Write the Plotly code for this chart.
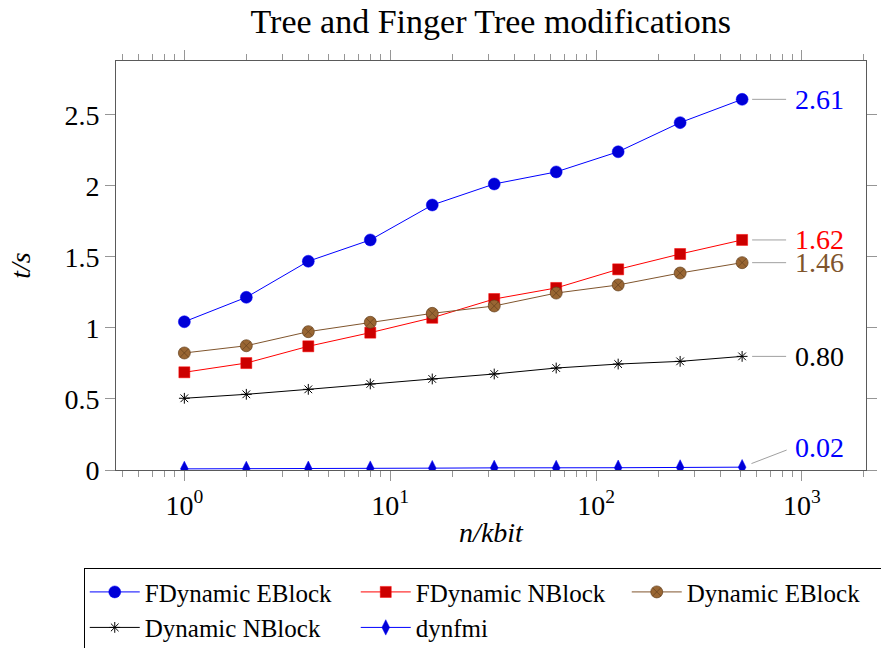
import math
import plotly.graph_objects as go

sizes_kbit = [1, 2, 4, 8, 16, 32, 64, 128, 256, 512]
fdyn_eblock = [1.044, 1.216, 1.47, 1.62, 1.866, 2.014, 2.099, 2.241, 2.446, 2.61]
fdyn_nblock = [0.688, 0.753, 0.871, 0.967, 1.072, 1.204, 1.282, 1.413, 1.521, 1.62]
dyn_eblock = [0.824, 0.875, 0.974, 1.04, 1.103, 1.155, 1.246, 1.303, 1.387, 1.46]
dyn_nblock = [0.505, 0.533, 0.568, 0.606, 0.641, 0.676, 0.718, 0.746, 0.765, 0.80]
dynfmi = [0.008, 0.008, 0.009, 0.010, 0.013, 0.015, 0.014, 0.016, 0.018, 0.02]

series_names = ["FDynamic EBlock", "FDynamic NBlock", "Dynamic EBlock", "Dynamic NBlock", "dynfmi"]
series_values = [fdyn_eblock, fdyn_nblock, dyn_eblock, dyn_nblock, dynfmi]

x_tickvals = [1, 10, 100, 1000]
x_ticktext = ["10<sup>0</sup>", "10<sup>1</sup>", "10<sup>2</sup>", "10<sup>3</sup>"]
y_tickvals = [0, 0.5, 1, 1.5, 2, 2.5]
y_ticktext = ["0", "0.5", "1", "1.5", "2", "2.5"]

FONT = "Liberation Serif"
BROWN_LINE = "rgb(128,85,45)"
styles = [
    dict(line=dict(color="rgb(0,0,255)", width=1),
         marker=dict(symbol="circle", size=12, color="rgb(0,0,215)", line=dict(color="rgb(0,0,255)", width=0.5))),
    dict(line=dict(color="rgb(255,0,0)", width=1),
         marker=dict(symbol="square", size=11, color="rgb(204,0,0)", line=dict(color="rgb(255,0,0)", width=0.5))),
    dict(line=dict(color=BROWN_LINE, width=1),
         marker=dict(symbol="circle-x", size=12, color="rgb(153,102,51)", line=dict(color="rgb(100,65,30)", width=0.7))),
    dict(line=dict(color="black", width=1),
         marker=dict(symbol="asterisk-open", size=9, color="black", line=dict(color="black", width=1))),
    dict(line=dict(color="rgb(0,0,255)", width=1),
         marker=dict(symbol="diamond-tall", size=11, color="rgb(0,0,215)", line=dict(color="rgb(0,0,255)", width=0.5))),
]
label_colors = ["rgb(0,0,255)", "rgb(255,0,0)", "rgb(128,85,45)", "black", "rgb(0,0,255)"]
label_dy = [0, 0, 0, 0, -20]

fig = go.Figure()
for name, vals, st in zip(series_names, series_values, styles):
    fig.add_trace(go.Scatter(x=sizes_kbit, y=vals, name=name, mode="lines+markers",
                             line=st["line"], marker=st["marker"]))

for vals, col, dy in zip(series_values, label_colors, label_dy):
    fig.add_annotation(x=math.log10(sizes_kbit[-1]), y=vals[-1], xref="x", yref="y",
                       text=f"{vals[-1]:.2f}", showarrow=True, arrowhead=0,
                       arrowcolor="rgb(160,160,160)", arrowwidth=1,
                       ax=52, ay=dy, xanchor="left", yanchor="middle",
                       standoff=10, startstandoff=8, borderpad=0,
                       font=dict(family=FONT, size=28, color=col))

minor_x = ([0.5, 0.6, 0.7, 0.8, 0.9] + [m for m in range(2, 10)] +
           [m * 10 for m in range(2, 10)] + [m * 100 for m in range(2, 10)] + [2000])

fig.update_layout(
    width=881, height=648,
    margin=dict(l=116, r=15, t=61, b=178, autoexpand=False),
    paper_bgcolor="white", plot_bgcolor="white",
    title=dict(text="Tree and Finger Tree modifications", x=0.557, xanchor="center",
               y=1 - 21 / 648, yanchor="middle",
               font=dict(family=FONT, size=34, color="black")),
    font=dict(family=FONT, size=27, color="black"),
    xaxis=dict(type="log", range=[-0.332, 3.311], showgrid=False, zeroline=False,
               showline=True, linecolor="rgb(90,90,90)", linewidth=1, mirror="ticks",
               ticks="outside", ticklen=10, tickcolor="rgb(150,150,150)", tickwidth=1,
               tickmode="array", tickvals=x_tickvals, ticktext=x_ticktext,
               tickfont=dict(family=FONT, size=28),
               minor=dict(tickmode="array", tickvals=minor_x, ticks="outside", ticklen=6,
                          tickcolor="rgb(150,150,150)", tickwidth=1, showgrid=False),
               title=dict(text="<i>n/kbit</i>", font=dict(family=FONT, size=28), standoff=2)),
    yaxis=dict(range=[0, 2.88], showgrid=False, zeroline=False,
               showline=True, linecolor="rgb(90,90,90)", linewidth=1, mirror="ticks",
               ticks="outside", ticklen=10, tickcolor="rgb(150,150,150)", tickwidth=1,
               tickmode="array", tickvals=y_tickvals, ticktext=y_ticktext,
               tickfont=dict(family=FONT, size=28),
               title=dict(text="<i>t/s</i>", font=dict(family=FONT, size=28), standoff=25)),
    legend=dict(orientation="h", x=-0.043, xanchor="left", y=-0.24, yanchor="top",
                bgcolor="white", bordercolor="black", borderwidth=1,
                font=dict(family=FONT, size=25), itemwidth=50,
                entrywidth=206, entrywidthmode="pixels", tracegroupgap=0),
    showlegend=True,
)

fig.write_html("out.html")
